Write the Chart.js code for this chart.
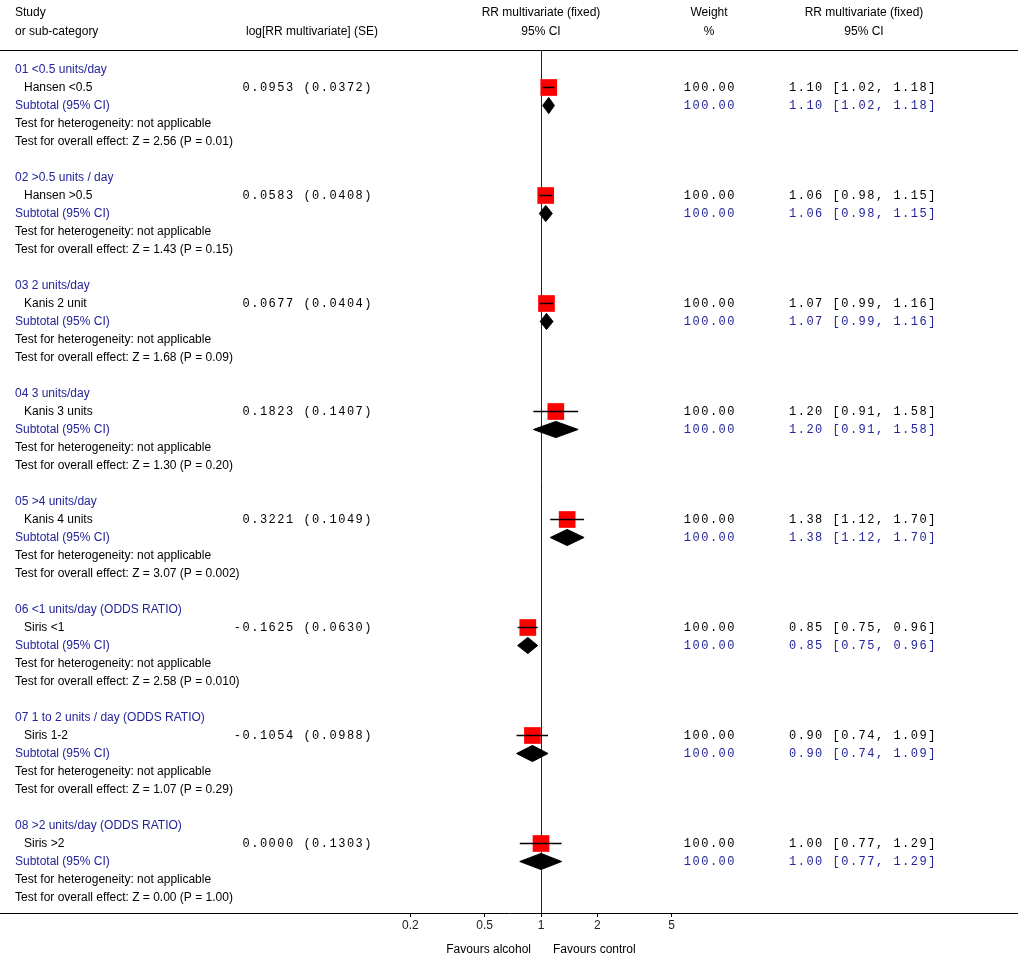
<!DOCTYPE html>
<html>
<head>
<meta charset="utf-8">
<script src="https://cdn.jsdelivr.net/npm/chart.js@4.4.1/dist/chart.umd.min.js"></script>
<style>
  html, body { margin: 0; padding: 0; background: #fff; }
  #wrap { width: 1018px; height: 959px; }
</style>
</head>
<body>
<div id="wrap"><canvas id="forest" width="1018" height="959"></canvas></div>
<script>
// Data
const groupTitles = [
  '01 <0.5 units/day',
  '02 >0.5 units / day',
  '03 2 units/day',
  '04 3 units/day',
  '05 >4 units/day',
  '06 <1 units/day (ODDS RATIO)',
  '07 1 to 2 units / day (ODDS RATIO)',
  '08 >2 units/day (ODDS RATIO)'
];
const studyNames = ['Hansen <0.5', 'Hansen >0.5', 'Kanis 2 unit', 'Kanis 3 units',
  'Kanis 4 units', 'Siris <1', 'Siris 1-2', 'Siris >2'];
const logRR = [0.0953, 0.0583, 0.0677, 0.1823, 0.3221, -0.1625, -0.1054, 0.0000];
const logSE = [0.0372, 0.0408, 0.0404, 0.1407, 0.1049, 0.0630, 0.0988, 0.1303];
const weights = [100, 100, 100, 100, 100, 100, 100, 100];
const rr = [1.10, 1.06, 1.07, 1.20, 1.38, 0.85, 0.90, 1.00];
const rrLow = [1.02, 0.98, 0.99, 0.91, 1.12, 0.75, 0.74, 0.77];
const rrHigh = [1.18, 1.15, 1.16, 1.58, 1.70, 0.96, 1.09, 1.29];
const zValues = ['2.56', '1.43', '1.68', '1.30', '3.07', '2.58', '1.07', '0.00'];
const pValues = ['0.01', '0.15', '0.09', '0.20', '0.002', '0.010', '0.29', '1.00'];
const tickValues = [0.2, 0.5, 1, 2, 5];

const ROWS_PER_GROUP = 6;
const DIAMOND_HALF = 0.45; // in rows
const BLUE = '#24249a';
const SANS = '12px "Liberation Sans", Arial, sans-serif';
const MONO = '12px "Liberation Mono", "Courier New", monospace';

const rowOf = (g, k) => g * ROWS_PER_GROUP + k;

// whiskers get the lowest order so they sit on top of the squares
const whiskerSets = rr.map((v, i) => ({
  data: [{ x: rrLow[i], y: rowOf(i, 1) }, { x: rrHigh[i], y: rowOf(i, 1) }],
  showLine: true,
  borderColor: '#000',
  borderWidth: 1.5,
  pointRadius: 0,
  order: -1
}));

const squareSet = {
  data: rr.map((v, i) => ({ x: v, y: rowOf(i, 1) })),
  pointStyle: 'rect',
  pointRadius: 11.8,
  backgroundColor: '#ff0000',
  borderWidth: 0,
  showLine: false,
  order: 5
};

const diamondSets = rr.map((v, i) => {
  const r = rowOf(i, 2);
  return {
    data: [
      { x: rrLow[i], y: r }, { x: v, y: r - DIAMOND_HALF },
      { x: rrHigh[i], y: r }, { x: v, y: r + DIAMOND_HALF },
      { x: rrLow[i], y: r }
    ],
    showLine: true,
    fill: 'shape',
    backgroundColor: '#000',
    borderColor: '#000',
    borderWidth: 1,
    pointRadius: 0,
    tension: 0,
    order: 6
  };
});

const forestText = {
  id: 'forestText',
  beforeDatasetsDraw(chart) {
    const { ctx, chartArea, scales: { x } } = chart;
    const x1 = Math.round(x.getPixelForValue(1)) + 0.5;
    ctx.save();
    ctx.strokeStyle = '#222';
    ctx.lineWidth = 1;
    ctx.beginPath();
    ctx.moveTo(x1, chartArea.top);
    ctx.lineTo(x1, chartArea.bottom);
    ctx.stroke();
    ctx.restore();
  },
  afterDraw(chart) {
    const { ctx, chartArea, scales: { x, y } } = chart;
    const x1 = x.getPixelForValue(1);
    ctx.save();

    // header separator
    ctx.strokeStyle = '#000';
    ctx.lineWidth = 1;
    ctx.beginPath();
    ctx.moveTo(0, chartArea.top + 0.5);
    ctx.lineTo(chart.width, chartArea.top + 0.5);
    ctx.stroke();

    ctx.textBaseline = 'middle';
    ctx.font = SANS;
    ctx.fillStyle = '#000';
    ctx.textAlign = 'left';
    ctx.fillText('Study', 15, 13);
    ctx.fillText('or sub-category', 15, 32);
    ctx.textAlign = 'center';
    ctx.fillText('log[RR multivariate] (SE)', 312, 32);
    ctx.fillText('RR multivariate (fixed)', x1, 13);
    ctx.fillText('95% CI', x1, 32);
    ctx.fillText('Weight', 709, 13);
    ctx.fillText('%', 709, 32);
    ctx.fillText('RR multivariate (fixed)', 864, 13);
    ctx.fillText('95% CI', 864, 32);

    groupTitles.forEach((title, i) => {
      const yT = y.getPixelForValue(rowOf(i, 0));
      const yS = y.getPixelForValue(rowOf(i, 1));
      const ySub = y.getPixelForValue(rowOf(i, 2));
      const yH = y.getPixelForValue(rowOf(i, 3));
      const yO = y.getPixelForValue(rowOf(i, 4));
      const ci = rr[i].toFixed(2) + ' [' + rrLow[i].toFixed(2) + ', ' + rrHigh[i].toFixed(2) + ']';
      const w = weights[i].toFixed(2);

      ctx.font = SANS;
      ctx.letterSpacing = '0px';
      ctx.textAlign = 'left';
      ctx.fillStyle = BLUE;
      ctx.fillText(title, 15, yT);
      ctx.fillText('Subtotal (95% CI)', 15, ySub);
      ctx.fillStyle = '#000';
      ctx.fillText(studyNames[i], 24, yS);
      ctx.fillText('Test for heterogeneity: not applicable', 15, yH);
      ctx.fillText('Test for overall effect: Z = ' + zValues[i] + ' (P = ' + pValues[i] + ')', 15, yO);

      ctx.font = MONO;
      ctx.letterSpacing = '1.5px';
      ctx.textAlign = 'right';
      ctx.fillText(logRR[i].toFixed(4) + ' (' + logSE[i].toFixed(4) + ')', 373, yS);
      ctx.fillText(w, 736, yS);
      ctx.textAlign = 'left';
      ctx.fillText(ci, 789, yS);
      ctx.fillStyle = BLUE;
      ctx.textAlign = 'right';
      ctx.fillText(w, 736, ySub);
      ctx.textAlign = 'left';
      ctx.fillText(ci, 789, ySub);
    });

    ctx.font = SANS;
    ctx.letterSpacing = '0px';
    ctx.fillStyle = '#000';
    ctx.textAlign = 'right';
    ctx.fillText('Favours alcohol', x1 - 10, 950);
    ctx.textAlign = 'left';
    ctx.fillText('Favours control', x1 + 12, 950);
    ctx.restore();
  }
};

new Chart(document.getElementById('forest'), {
  type: 'scatter',
  data: { datasets: [...whiskerSets, squareSet, ...diamondSets] },
  options: {
    responsive: false,
    animation: false,
    layout: { autoPadding: false, padding: { top: 50, left: 0, right: 0, bottom: 0 } },
    plugins: { legend: { display: false }, tooltip: { enabled: false } },
    scales: {
      x: {
        type: 'logarithmic',
        position: 'bottom',
        min: Math.pow(10, -541 / 187),
        max: Math.pow(10, 477 / 187),
        afterBuildTicks: (s) => { s.ticks = tickValues.map(v => ({ value: v })); },
        afterFit: (s) => { s.height = 46; s.paddingLeft = 0; s.paddingRight = 0; },
        grid: { drawOnChartArea: false, drawTicks: true, tickLength: 4, color: '#000' },
        border: { display: true, color: '#000', width: 1 },
        ticks: {
          autoSkip: false,
          maxRotation: 0,
          padding: 1,
          color: '#222',
          font: { family: '"Liberation Sans", Arial, sans-serif', size: 12 },
          callback: (v) => String(v)
        }
      },
      y: { type: 'linear', display: false, reverse: true, min: -1.0833, max: 46.861 }
    }
  },
  plugins: [forestText]
});
</script>
</body>
</html>
